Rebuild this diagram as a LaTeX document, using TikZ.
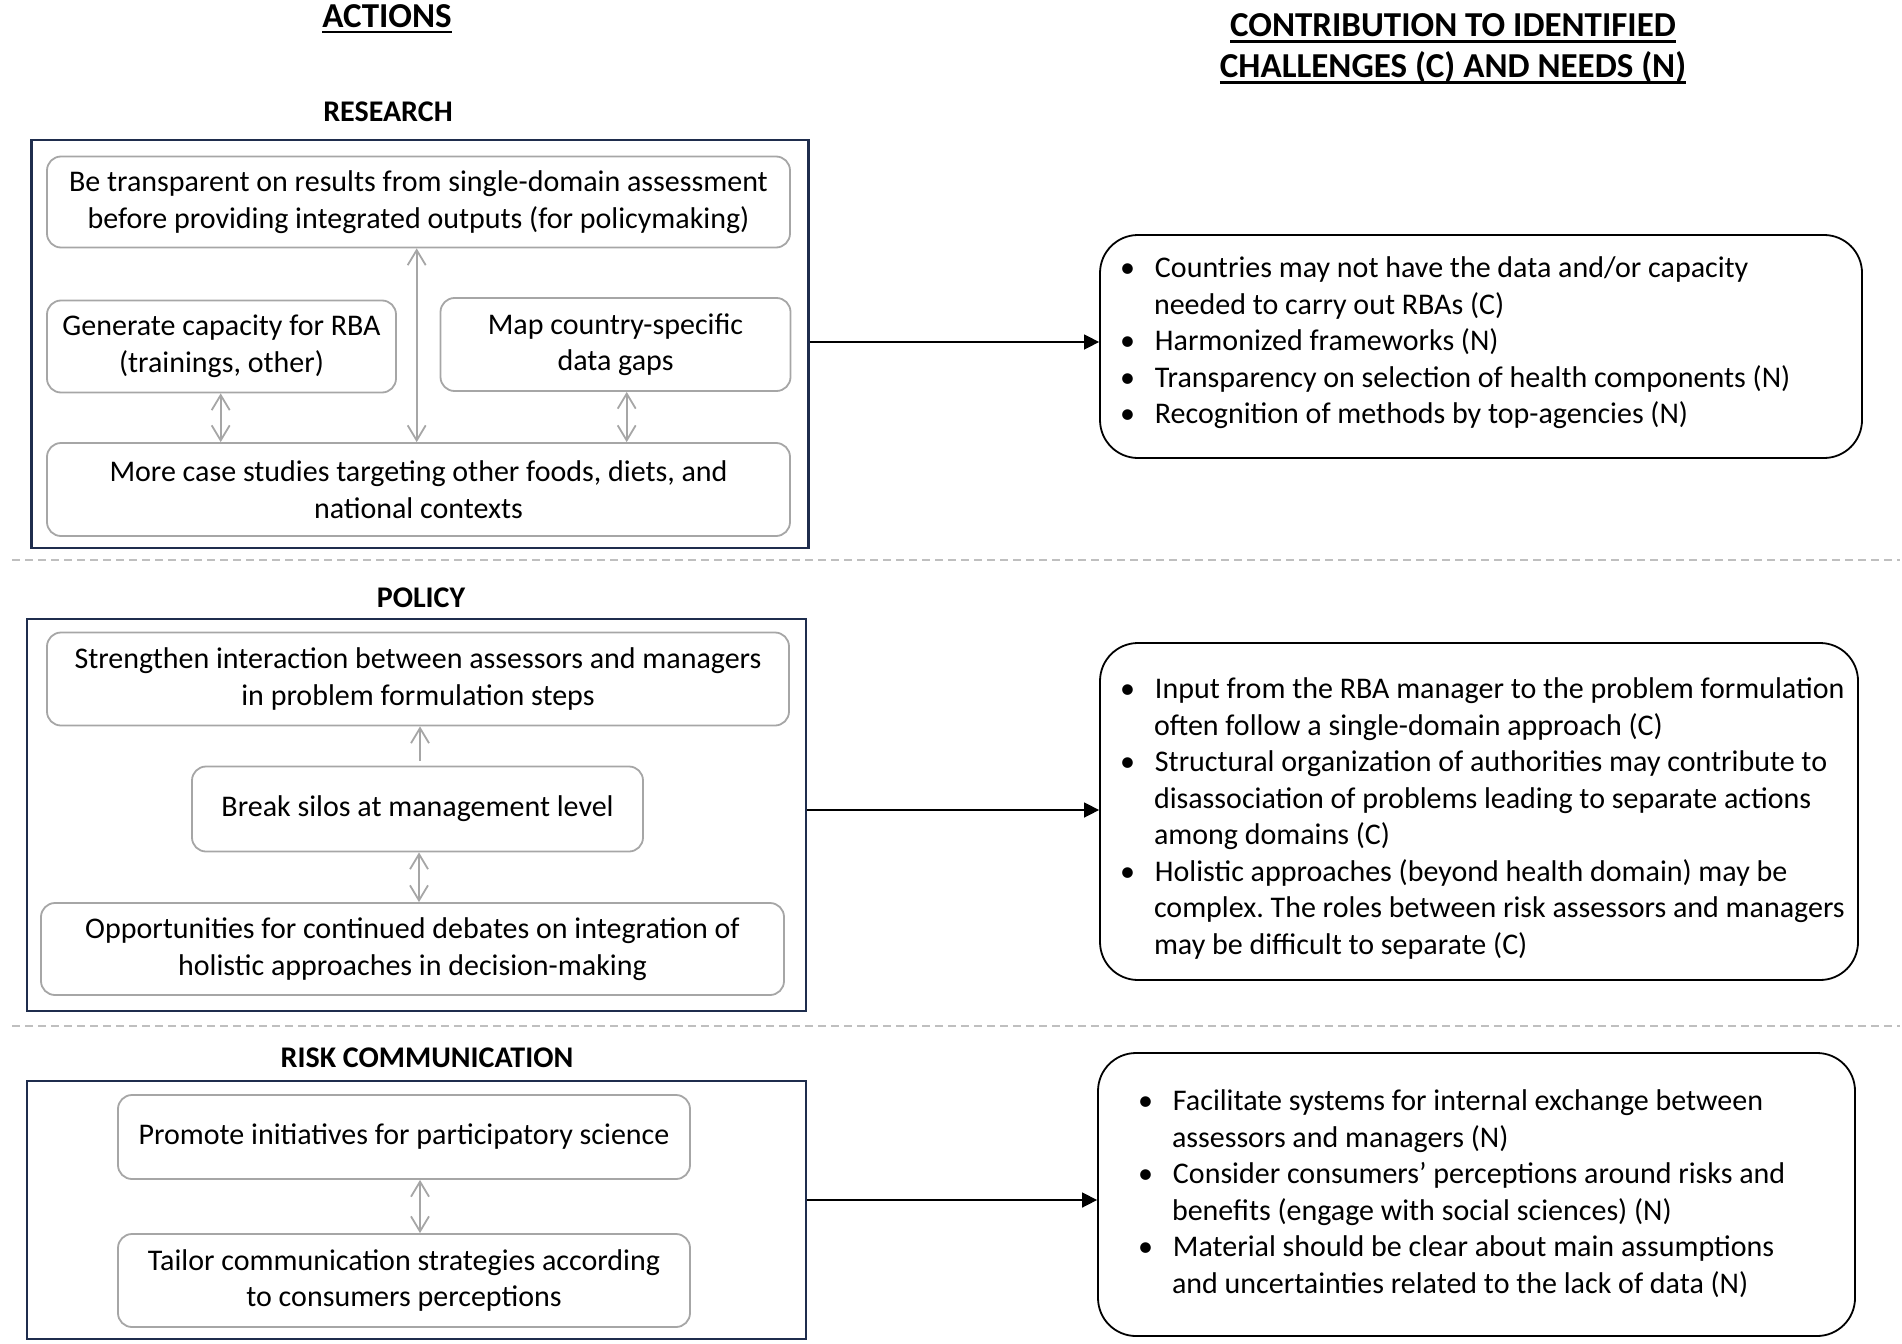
\documentclass[tikz,border=0pt]{standalone}
\usepackage{fontspec}
\setmainfont{Carlito}
\usetikzlibrary{arrows.meta,calc}
\definecolor{navy}{HTML}{1F2D4D}
\definecolor{boxgray}{HTML}{A6A6A6}
\definecolor{dashgray}{HTML}{BFBFBF}
\newcommand\bodyfont{\fontsize{30}{36.5}\selectfont\frenchspacing}
\newcommand\rfont{\fontsize{30}{36.5}\selectfont\frenchspacing}
\newcommand\headfont{\fontsize{35}{41}\selectfont\bfseries}
\newcommand\secfont{\fontsize{30}{34}\selectfont\bfseries}
\newcommand\hdul[1]{\setbox0\hbox{#1}\rlap{\rule[-6pt]{\wd0}{2.6pt}}\box0}
\newenvironment{blist}{\begin{list}{\textbullet}{\setlength\leftmargin{34pt}\setlength\rightmargin{-40pt}\setlength\labelsep{20pt}\setlength\labelwidth{14pt}\setlength\itemsep{0pt}\setlength\parsep{0pt}\setlength\topsep{0pt}\setlength\partopsep{0pt}}}{\end{list}}
% #1 raise, #2 width, #3 content
\newcommand\rcontent[3]{\raisebox{#1}[\height][\depth]{\makebox[#2][l]{\begin{minipage}{#2}\raggedright\rfont\begin{blist}#3\end{blist}\end{minipage}}}}
\tikzset{
  outerbox/.style={draw=navy, line width=2.5pt, inner sep=0pt},
  ibox/.style={draw=boxgray, line width=1.8pt, rounded corners=14pt, align=flush center, inner sep=0pt, font=\bodyfont, text=black},
  rbox/.style={draw=black, line width=1.8pt, rounded corners=38pt, font=\rfont, inner ysep=0pt, inner xsep=20pt},
  link/.style={draw=boxgray, line width=1.8pt, {Straight Barb[length=15pt,width=18pt]}-{Straight Barb[length=15pt,width=18pt]}},
  uplink/.style={draw=boxgray, line width=1.8pt, -{Straight Barb[length=15pt,width=18pt]}},
  flow/.style={draw=black, line width=1.5pt, -{Triangle[length=15pt,width=15pt]}},
  heading/.style={font=\headfont, align=center},
  section/.style={font=\secfont},
  sepline/.style={draw=dashgray, line width=2pt, dash pattern=on 8pt off 5pt},
}
\begin{document}
\begin{tikzpicture}[x=1pt,y=-1pt]
\useasboundingbox (0,0) rectangle (1902,1343);
% headings
\node[heading] (hact) at (387,19) {\hdul{ACTIONS}};
\node[heading] (hcon) at (1453,49) {\hdul{CONTRIBUTION TO IDENTIFIED}\\\hdul{CHALLENGES (C) AND NEEDS (N)}};
% separators
\draw[sepline] (12,560) -- (1900,560);
\draw[sepline] (12,1026) -- (1900,1026);
% RESEARCH
\node[section] (hres) at (388,112) {RESEARCH};
\node[outerbox, minimum width=777pt, minimum height=408pt] (research) at (420,344) {};
\node[ibox, minimum width=743pt, minimum height=91pt] (b1) at (418.5,202) {Be transparent on results from single-domain assessment\\before providing integrated outputs (for policymaking)};
\node[ibox, minimum width=349pt, minimum height=92pt] (b2) at (221.5,346.5) {Generate capacity for RBA\\(trainings, other)};
\node[ibox, minimum width=350pt, minimum height=93pt] (b3) at (615.5,344.5) {Map country-specific\\data gaps};
\node[ibox, minimum width=743pt, minimum height=93pt] (b4) at (418.5,489.5) {More case studies targeting other foods, diets, and\\national contexts};
\draw[link] (b1.south -| 416.7,0) -- (b4.north -| 416.7,0);
\draw[link] (b2.south -| 220.7,0) -- (b4.north -| 220.7,0);
\draw[link] (b3.south -| 626.7,0) -- (b4.north -| 626.7,0);
\node[rbox, minimum height=223pt] (rb1) at (1481,346.5) {\rcontent{3.5pt}{722pt}{%
\item Countries may not have the data and/or capacity\newline needed to carry out RBAs (C)
\item Harmonized frameworks (N)
\item Transparency on selection of health components (N)
\item Recognition of methods by top-agencies (N)}};
\draw[flow] (research.east |- 0,342) -- (rb1.west |- 0,342);
% POLICY
\node[section] (hpol) at (421,598) {POLICY};
\node[outerbox, minimum width=779pt, minimum height=392pt] (policy) at (416.5,815) {};
\node[ibox, minimum width=742pt, minimum height=93pt] (p1) at (418,679) {Strengthen interaction between assessors and managers\\in problem formulation steps};
\node[ibox, minimum width=451pt, minimum height=85pt] (p2) at (417.5,809) {Break silos at management level};
\node[ibox, minimum width=743pt, minimum height=92pt] (p3) at (412.5,949) {Opportunities for continued debates on integration of\\holistic approaches in decision-making};
\draw[uplink, shorten <=5pt] (p2.north -| 420,0) -- (p1.south -| 420,0);
\draw[link] (p2.south -| 419,0) -- (p3.north -| 419,0);
\node[rbox, minimum height=337pt] (rb2) at (1479,811.5) {\rcontent{-7pt}{718pt}{%
\item Input from the RBA manager to the problem formulation\newline often follow a single-domain approach (C)
\item Structural organization of authorities may contribute to\newline disassociation of problems leading to separate actions\newline among domains (C)
\item Holistic approaches (beyond health domain) may be\newline complex. The roles between risk assessors and managers\newline may be difficult to separate (C)}};
\draw[flow] (policy.east |- 0,810) -- (rb2.west |- 0,810);
% RISK COMMUNICATION
\node[section] (hrisk) at (427,1058) {RISK COMMUNICATION};
\node[outerbox, minimum width=779pt, minimum height=258pt] (risk) at (416.5,1210) {};
\node[ibox, minimum width=572pt, minimum height=84pt] (r1) at (404,1137) {Promote initiatives for participatory science};
\node[ibox, minimum width=572pt, minimum height=93pt] (r2) at (404,1280.5) {Tailor communication strategies according\\to consumers perceptions};
\draw[link] (r1.south -| 420,0) -- (r2.north -| 420,0);
\node[rbox, inner xsep=40pt, minimum height=283pt] (rb3) at (1476.5,1194.5) {\rcontent{1pt}{677pt}{%
\item Facilitate systems for internal exchange between\newline assessors and managers (N)
\item Consider consumers’ perceptions around risks and\newline benefits (engage with social sciences) (N)
\item Material should be clear about main assumptions\newline and uncertainties related to the lack of data (N)}};
\draw[flow] (risk.east |- 0,1200) -- (rb3.west |- 0,1200);
\end{tikzpicture}
\end{document}
